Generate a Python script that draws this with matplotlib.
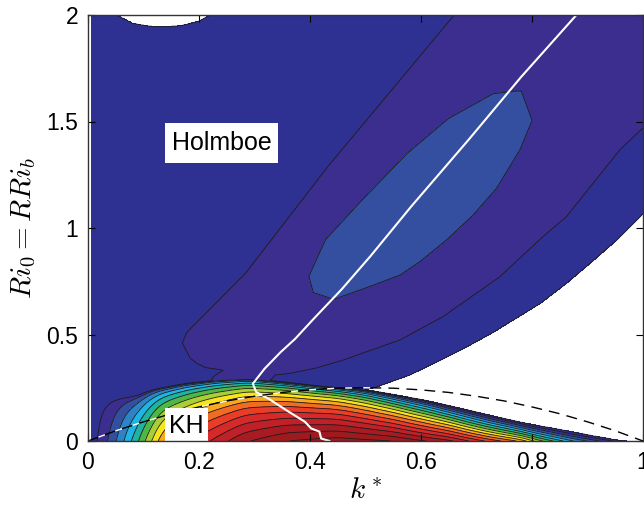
import numpy as np
import matplotlib
matplotlib.use('Agg')
import matplotlib.pyplot as plt
from matplotlib.colors import ListedColormap, BoundaryNorm
from matplotlib.patches import Rectangle

plt.rcParams['mathtext.fontset'] = 'cm'
plt.rcParams['font.family'] = ['Liberation Sans', 'DejaVu Sans']

# growth-rate levels and band colours (band i = levels[i]..levels[i+1])
levels = np.round(np.arange(0, 0.185, 0.01), 3)
band_colors = ['#2e3192', '#3b2e8e', '#344ea0', '#2e83c8', '#20b4e6', '#1fb3a3',
               '#4db748', '#a8cf38', '#f6e51a', '#f8a81f', '#f26b23', '#ea3d27',
               '#d6292a', '#c02028', '#a81b22', '#9e1a1f', '#9e1a1f', '#9e1a1f']

# KH mode: growth rate at Ri0 = 0 against k*
kh_k = [0.0, 0.016, 0.036, 0.052, 0.064, 0.079, 0.091, 0.103, 0.115, 0.126, 0.138,
        0.2, 0.28, 0.36, 0.45, 0.55, 0.65, 0.72, 0.773, 0.791, 0.802,
        0.82, 0.838, 0.856, 0.874, 0.9, 0.922, 0.946, 0.97, 1.0]
kh_amp = [0.0, 0.01, 0.02, 0.03, 0.04, 0.05, 0.06, 0.07, 0.08, 0.09, 0.10,
          0.124, 0.148, 0.16, 0.165, 0.16, 0.143, 0.118, 0.10, 0.09, 0.08,
          0.07, 0.06, 0.05, 0.04, 0.03, 0.02, 0.01, 0.0, -0.01]
# KH mode: outer edge (cut-off Ri0) against k*
kh_cut_k = [0.0, 0.03, 0.085, 0.115, 0.175, 0.23, 0.29, 0.35, 0.42, 0.5, 0.55,
            0.61, 0.67, 0.73, 0.79, 0.85, 0.91, 0.965, 1.0]
kh_cut_ri = [0.19, 0.2, 0.212, 0.242, 0.27, 0.285, 0.292, 0.278, 0.258, 0.24, 0.218,
             0.19, 0.155, 0.118, 0.083, 0.055, 0.025, 0.0, 0.0]
# KH mode: how sharply the growth rate drops toward the edge
kh_shape_k = [0.0, 0.3, 0.45, 0.55, 0.7, 0.85, 1.0]
kh_shape = [0.4, 0.4, 0.45, 0.6, 0.85, 1.0, 1.0]

# Holmboe mode contours, k* read at given Ri0
left1_ri = [0.25, 0.30, 0.333, 0.345, 0.365, 0.39, 0.46, 0.51, 0.79, 1.29, 2.0]
left1_k = [0.22, 0.225, 0.244, 0.212, 0.196, 0.184, 0.17, 0.178, 0.285, 0.433, 0.66]
right1_ri = [0.25, 0.29, 0.31, 0.318, 0.342, 0.38, 0.474, 0.584, 0.771, 0.96, 1.053, 1.366, 1.47, 2.0]
right1_k = [0.31, 0.33, 0.337, 0.364, 0.41, 0.46, 0.562, 0.64, 0.742, 0.82, 0.862, 0.958, 1.0, 1.2]
edge_ri = [0.0, 0.24, 0.254, 0.31, 0.386, 0.443, 0.51, 0.646, 0.74, 0.835, 0.944, 1.053, 2.0]
edge_k = [0.47, 0.50, 0.52, 0.58, 0.64, 0.683, 0.73, 0.815, 0.862, 0.905, 0.953, 0.995, 1.3]
ell_left_ri = [0.666, 0.697, 0.774, 0.946, 1.132, 1.35, 1.513, 1.63, 1.645]
ell_left_k = [0.443, 0.406, 0.398, 0.428, 0.494, 0.575, 0.649, 0.73, 0.78]
ell_right_ri = [0.666, 0.728, 0.779, 0.842, 0.944, 1.061, 1.186, 1.366, 1.505, 1.645]
ell_right_k = [0.443, 0.51, 0.562, 0.598, 0.646, 0.694, 0.736, 0.778, 0.80, 0.78]
bump_k = [0.052, 0.08, 0.11, 0.14, 0.17, 0.2, 0.22]
bump_ri = [2.0, 1.962, 1.948, 1.945, 1.952, 1.972, 2.0]

# most unstable k* (white line)
ridge_k = [0.88, 0.78, 0.685, 0.582, 0.509, 0.457, 0.406, 0.373, 0.347, 0.318, 0.297,
           0.303, 0.325, 0.362, 0.391, 0.402, 0.417, 0.42, 0.435]
ridge_ri = [2.0, 1.708, 1.412, 1.10, 0.868, 0.712, 0.572, 0.479, 0.417, 0.339, 0.269,
            0.23, 0.199, 0.137, 0.09, 0.059, 0.044, 0.012, 0.0]

# dashed curve
dash_k = [0.0, 0.05, 0.1, 0.15, 0.2, 0.25, 0.3, 0.35, 0.4, 0.45, 0.5,
          0.55, 0.6, 0.65, 0.7, 0.75, 0.8, 0.85, 0.9, 0.95, 1.0]
dash_ri = [0.0, 0.048, 0.09, 0.128, 0.16, 0.188, 0.21, 0.228, 0.24, 0.248, 0.25,
           0.248, 0.24, 0.228, 0.21, 0.188, 0.16, 0.128, 0.09, 0.048, 0.0]


def smooth(a, n=21):
    pad = np.pad(a, n // 2, mode='edge')
    return np.convolve(pad, np.ones(n) / n, mode='valid')


# build growth-rate field
k = np.linspace(0.006, 1.0, 700)
ri = np.linspace(0, 2, 801)
K, R = np.meshgrid(k, ri)

amp = smooth(np.interp(k, kh_k, kh_amp))
cut = np.maximum(smooth(np.interp(k, kh_cut_k, kh_cut_ri)), 1e-4)
shape = smooth(np.interp(k, kh_shape_k, kh_shape), 41)
rr = R / cut
kh = np.where((rr < 1) & (amp > 0), amp * np.clip(1 - rr, 0, None) ** shape, -0.01)

hol = np.empty_like(K)
for i, y in enumerate(ri):
    e0 = np.interp(y, edge_ri, edge_k)
    if y < 0.25:
        xs, vs = [0, e0, 2], [0.005, 0.0, -0.05]
    else:
        l1 = np.interp(y, left1_ri, left1_k)
        r1 = np.interp(y, right1_ri, right1_k)
        if ell_left_ri[0] < y < ell_left_ri[-1]:
            el = np.interp(y, ell_left_ri, ell_left_k)
            er = np.interp(y, ell_right_ri, ell_right_k)
            xs = [0, l1, el, (el + er) / 2, er, r1, e0, 2]
            vs = [0.005, 0.01, 0.02, 0.025, 0.02, 0.01, 0.0, -0.05]
        else:
            rk = np.interp(y, ridge_ri[::-1], ridge_k[::-1])
            xs = [0, l1, rk, r1, e0, 2]
            vs = [0.005, 0.01, 0.015, 0.01, 0.0, -0.05]
    hol[i] = np.interp(k, xs, vs)

sigma = np.maximum(hol, kh)
bump = (K > bump_k[0]) & (K < bump_k[-1]) & (R > np.interp(K, bump_k, bump_ri))
sigma[bump] = -0.05

fig = plt.figure(figsize=(6.44, 5.07), dpi=100)
ax = fig.add_axes([88 / 644, 66 / 507, 555 / 644, 426 / 507])

cmap = ListedColormap(band_colors)
norm = BoundaryNorm(levels, cmap.N)
ax.contourf(K, R, sigma, levels=levels, cmap=cmap, norm=norm)
ax.contour(K, R, sigma, levels=levels[:-1], colors='#1c1c1c', linewidths=0.6)

ax.plot(ridge_k, ridge_ri, color='white', lw=1.5)
ax.plot(dash_k, dash_ri, color='black', lw=1, linestyle=(0, (8, 5)))
ax.plot(dash_k, dash_ri, color='white', lw=1, linestyle=(5, (5, 8)))

ax.add_patch(Rectangle((0.139, 1.305), 0.203, 0.188, facecolor='white', edgecolor='none', zorder=5))
ax.text(0.2405, 1.40, 'Holmboe', fontsize=18, ha='center', va='center', zorder=6)
ax.add_patch(Rectangle((0.139, 0.0), 0.077, 0.155, facecolor='white', edgecolor='none', zorder=5))
ax.text(0.1775, 0.072, 'KH', fontsize=18, ha='center', va='center', zorder=6)

ax.set_xlim(0, 1)
ax.set_ylim(0, 2)
ax.set_xticks([0, 0.2, 0.4, 0.6, 0.8, 1])
ax.set_xticklabels(['0', '0.2', '0.4', '0.6', '0.8', '1'])
ax.set_yticks([0, 0.5, 1, 1.5, 2])
ax.set_yticklabels(['0', '0.5', '1', '1.5', '2'])
ax.tick_params(direction='in', top=True, right=True, length=5, width=0.8,
               labelsize=16.5, pad=7)
for s in ax.spines.values():
    s.set_linewidth(1)
    s.set_color('#333333')
    s.set_zorder(7)

ax.set_xlabel(r'$k^*$', fontsize=21, labelpad=2)
ax.set_ylabel(r'$Ri_0 = RRi_b$', fontsize=21, labelpad=6)

fig.savefig('out.png', dpi=100)
